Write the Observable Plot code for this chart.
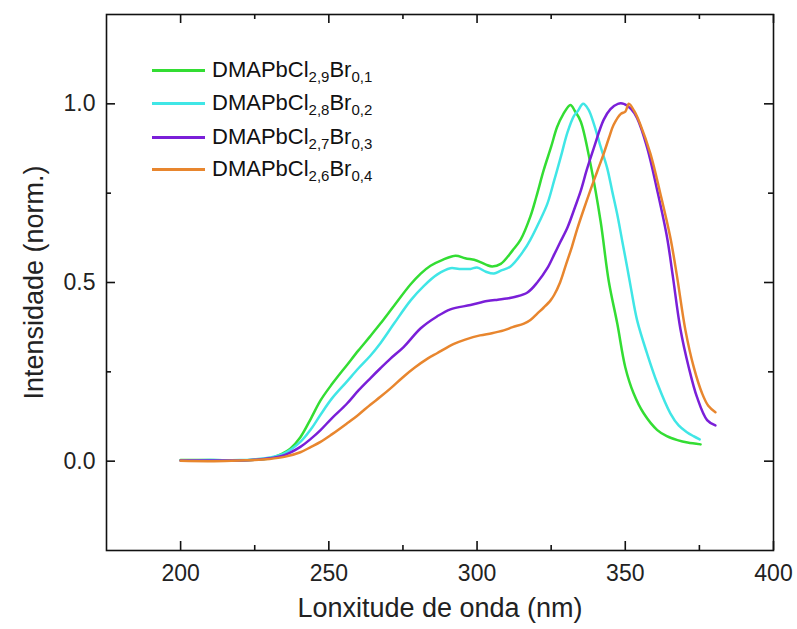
<!DOCTYPE html>
<html><head><meta charset="utf-8">
<script src="https://cdn.jsdelivr.net/npm/d3@7"></script>
<script src="https://cdn.jsdelivr.net/npm/@observablehq/plot@0.6"></script>
<style>
body{margin:0;background:#fff;}
#wrap{position:relative;width:797px;height:629px;overflow:hidden;}
#legend{position:absolute;left:0;top:0;font-family:"Liberation Sans",Arial,sans-serif;color:#111;}
.row{position:absolute;display:flex;align-items:center;height:30px;white-space:nowrap;}
.sw{width:53px;height:3px;margin-right:7px;}
.lbl{font-size:22px;line-height:30px;}
.lbl sub{font-size:15px;vertical-align:-5px;line-height:0;}
</style></head><body><div id="wrap"><div id="legend"></div></div>
<script>
// ---- data ----
const seriesNames = ["DMAPbCl2,9Br0,1","DMAPbCl2,8Br0,2","DMAPbCl2,7Br0,3","DMAPbCl2,6Br0,4"];
const clSub = ["2,9","2,8","2,7","2,6"];
const brSub = ["0,1","0,2","0,3","0,4"];
const colors = ["#33dd33","#40e6e6","#7a1fd8","#e8862e"];

const wlGreen = [200,210,220,225,230,234,237,240.4,244,247.2,251,256.2,260,264,267.4,272,277.6,281,284.3,288,292.7,296,300,303,305.1,308,312,314.7,318,320,322.5,325,327,329,331.5,333,335,338.3,341.7,344.4,347.3,350,352.8,356.2,360.8,364,367.6,371,375.4];
const inGreen = [0.003,0.003,0.002,0.004,0.008,0.02,0.035,0.067,0.12,0.17,0.215,0.27,0.31,0.35,0.385,0.435,0.495,0.525,0.547,0.562,0.575,0.568,0.561,0.55,0.545,0.552,0.59,0.62,0.685,0.74,0.815,0.88,0.935,0.97,0.997,0.98,0.95,0.83,0.67,0.505,0.385,0.263,0.19,0.134,0.087,0.07,0.059,0.052,0.047];

const wlCyan = [200,210,220,225,230,235,240.4,244,247.2,251,256,260,264,267.4,272,277.6,282,286.5,291,294,297.8,300,303,305.7,308,311.3,315.8,318,321,323.7,326,328.2,330.5,332.6,334,335.8,337.5,339.4,341.5,343.9,345.6,347.3,349,350.7,352,354,357.4,360.8,365.2,368,370.8,373,375.1];
const inCyan = [0.002,0.003,0.003,0.005,0.01,0.022,0.054,0.09,0.13,0.175,0.222,0.26,0.295,0.33,0.385,0.45,0.49,0.522,0.54,0.538,0.538,0.542,0.53,0.525,0.533,0.545,0.59,0.62,0.67,0.72,0.785,0.85,0.92,0.965,0.98,1.0,0.985,0.944,0.885,0.82,0.755,0.69,0.615,0.54,0.48,0.394,0.3,0.218,0.134,0.1,0.081,0.07,0.061];

const wlPurple = [200,210,220,225,230,235,240.4,244,247.2,251,256,260,264,267.4,270.8,275.3,281,286.5,291,297.8,303.4,307,310,313,317,320.3,323.7,326,328,330.5,333,335,337,339.4,342.7,345,347.5,349.5,352,354,357.4,360.8,364.1,366,368.6,371.4,374.2,377.6,380.4];
const inPurple = [0.002,0.002,0.002,0.004,0.008,0.017,0.04,0.063,0.087,0.12,0.16,0.198,0.232,0.26,0.287,0.32,0.372,0.405,0.425,0.437,0.448,0.452,0.455,0.46,0.472,0.5,0.54,0.578,0.612,0.654,0.71,0.757,0.815,0.877,0.955,0.985,1.0,1.0,0.985,0.96,0.877,0.757,0.626,0.52,0.37,0.263,0.179,0.115,0.1];

const wlOrange = [200,210,220,225,230,235,240.4,244,247.2,251,256,260,264,267.4,271,275,279,283.3,286.5,292.2,296,301,305,309,312,315.8,318,320.3,322.5,324.8,326,328,330,332,333.8,336,338.3,340.5,342.7,344.5,346,348.5,350,351.2,353,355,358.5,361.8,365.2,367.4,370.3,373.1,375.9,378,380.4];
const inOrange = [0.001,0.0,0.002,0.003,0.006,0.012,0.025,0.04,0.054,0.075,0.105,0.13,0.158,0.18,0.205,0.235,0.262,0.287,0.302,0.328,0.34,0.352,0.358,0.366,0.375,0.385,0.395,0.413,0.43,0.45,0.465,0.5,0.55,0.6,0.65,0.705,0.76,0.81,0.86,0.905,0.94,0.972,0.978,1.0,0.98,0.944,0.86,0.75,0.626,0.52,0.366,0.263,0.19,0.155,0.137];

const xMajor = [200,250,300,350,400];
const xMinor = [225,275,325,375];
const yMajor = [0,0.5,1.0];
const yMinor = [0.25,0.75];
const xTitle = "Lonxitude de onda (nm)";
const yTitle = "Intensidade (norm.)";

// ---- build ----
const wls = [wlGreen, wlCyan, wlPurple, wlOrange];
const ins = [inGreen, inCyan, inPurple, inOrange];
const rows = seriesNames.flatMap((s, i) => wls[i].map((w, j) => ({series: s, wl: w, v: ins[i][j]})));

const W = 797, H = 629, mL = 106, mR = 24, mT = 14, mB = 79;
const fw = W - mL - mR, fh = H - mT - mB;
const tickStroke = {stroke: "#111", strokeWidth: 1.6};

const chart = Plot.plot({
  width: W, height: H,
  marginLeft: mL, marginRight: mR, marginTop: mT, marginBottom: mB,
  x: {domain: [175, 400]},
  y: {domain: [-0.25, 1.25]},
  color: {domain: seriesNames, range: colors},
  style: {fontFamily: "'Liberation Sans', Arial, sans-serif", color: "#222", background: "white"},
  marks: [
    Plot.line(rows, {x: "wl", y: "v", z: "series", stroke: "series", strokeWidth: 2.5, curve: "catmull-rom"}),
    Plot.frame({stroke: "#111", strokeWidth: 1.6}),
    Plot.tickX(xMajor, {x: d => d, insetTop: fh - 9, ...tickStroke}),
    Plot.tickX(xMajor, {x: d => d, insetBottom: fh - 9, ...tickStroke}),
    Plot.tickX(xMinor, {x: d => d, insetTop: fh - 5, ...tickStroke}),
    Plot.tickX(xMinor, {x: d => d, insetBottom: fh - 5, ...tickStroke}),
    Plot.tickY(yMajor, {y: d => d, insetRight: fw - 9, ...tickStroke}),
    Plot.tickY(yMajor, {y: d => d, insetLeft: fw - 9, ...tickStroke}),
    Plot.tickY(yMinor, {y: d => d, insetRight: fw - 5, ...tickStroke}),
    Plot.tickY(yMinor, {y: d => d, insetLeft: fw - 5, ...tickStroke}),
    Plot.axisX({ticks: xMajor, tickSize: 0, tickPadding: 14, fontSize: 23, label: null, tickFormat: d3.format("d")}),
    Plot.axisY({ticks: yMajor, tickSize: 0, tickPadding: 11, fontSize: 23, label: null, tickFormat: d3.format(".1f")}),
    Plot.text([xTitle], {text: d => d, frameAnchor: "bottom", lineAnchor: "middle", textAnchor: "middle", dy: 58, fontSize: 27, fill: "#222"}),
    Plot.text([yTitle], {text: d => d, frameAnchor: "left", lineAnchor: "middle", textAnchor: "middle", rotate: -90, dx: -72, fontSize: 27, fill: "#222"})
  ]
});
document.getElementById("wrap").prepend(chart);

// legend
const legendY = [70, 103, 137, 169];
const leg = document.getElementById("legend");
seriesNames.forEach((s, i) => {
  const r = document.createElement("div");
  r.className = "row";
  r.style.left = "152px";
  r.style.top = (legendY[i] - 15) + "px";
  r.innerHTML = `<div class="sw" style="background:${colors[i]}"></div><span class="lbl">DMAPbCl<sub>${clSub[i]}</sub>Br<sub>${brSub[i]}</sub></span>`;
  leg.appendChild(r);
});
</script>
</body></html>
